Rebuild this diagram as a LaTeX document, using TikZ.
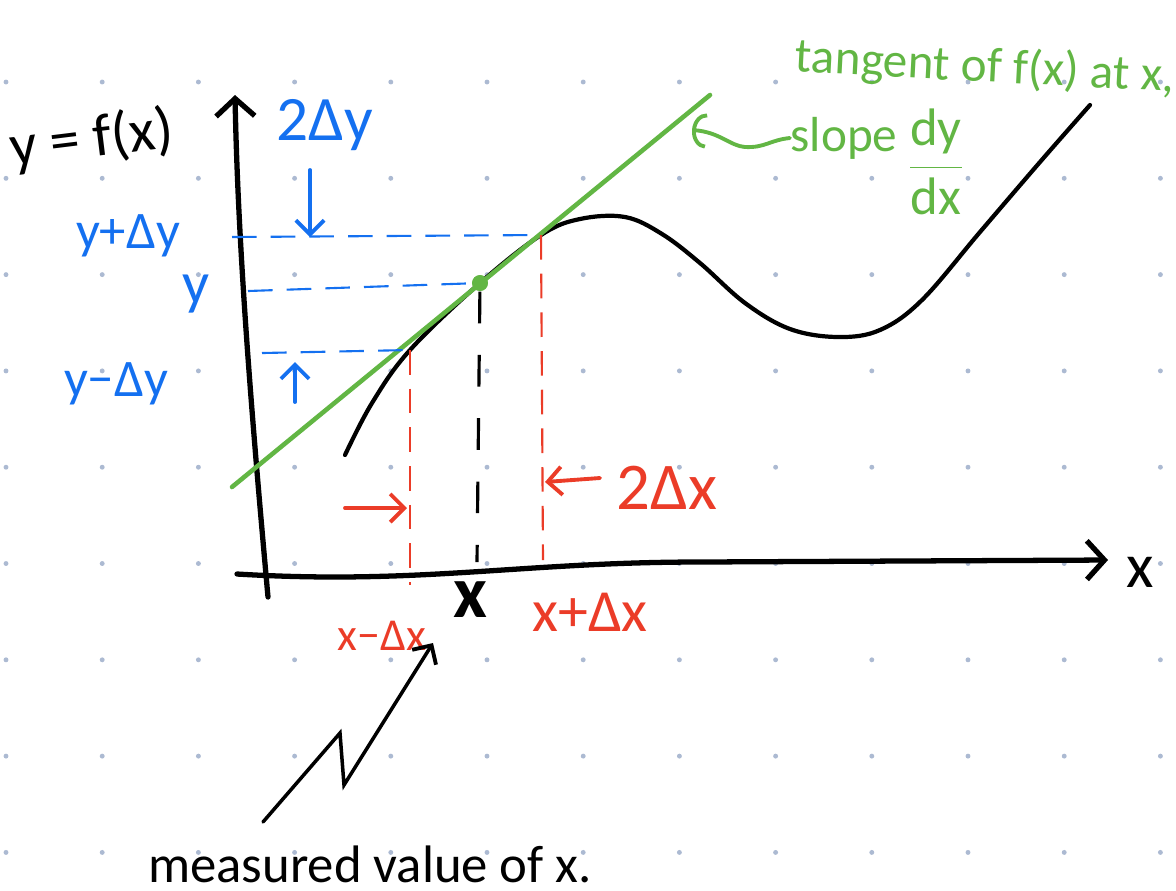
\documentclass[tikz,border=0pt]{standalone}
\usepackage{fontspec}
\setmainfont{Carlito}
\usetikzlibrary{arrows.meta, positioning}

\definecolor{inkblue}{RGB}{20,112,240}
\definecolor{inkred}{RGB}{235,60,40}
\definecolor{inkgreen}{RGB}{98,182,68}
\definecolor{dotgrey}{RGB}{172,186,210}

\begin{document}
\begin{tikzpicture}[
            x=0.01cm, y=-0.01cm,
            axis/.style={draw, line width=1.5pt, line cap=round, -{Straight Barb[length=5pt, width=11pt, line width=1.5pt]}},
            curve/.style={draw, line width=1.2pt, line cap=round, line join=round},
            tangent/.style={draw=inkgreen, line width=1.3pt, line cap=round},
            guide/.style={draw, line width=0.6pt, dash pattern=on 7pt off 4pt},
            pointer/.style={draw, line width=1.1pt, line cap=round, -{Straight Barb[length=4pt, width=8pt, line width=1.1pt]}},
            lbl/.style={inner sep=0pt, font=\fontsize{#1}{#1}\selectfont},
            gdot/.style={circle, fill=inkgreen, inner sep=0pt, minimum size=4.5pt}
        ]
            \useasboundingbox (0,0) rectangle (1176,890);
            % dotted paper
            \foreach \i in {0,...,12}
                \foreach \j in {0,...,8}
                    \fill[dotgrey] (6+96.2*\i, 82+96.3*\j) circle (0.7pt);

            % Axes
            \coordinate (origin) at (268,597);
            \coordinate (ytop) at (235,95);
            \coordinate (xleft) at (237,574);
            \coordinate (xright) at (1108,560);
            \path [axis] (origin) .. controls (252,420) and (238,250) .. (ytop);
            \path [axis] (xleft) .. controls (420,585) and (520,562) .. (700,562) -- (xright);
            \node [lbl=18] (xaxis) at (1140,572) {x};
            \node [lbl=17, rotate=7] (fx) at (92,140) {y = f(x)};

            % Curve and tangent
            \coordinate (lower) at (410,350);
            \coordinate (upper) at (541,235);
            \node [gdot] (pt) at (480,283) {};
            \path [curve] plot [smooth, tension=0.6] coordinates {(345,455) (372,403) (lower) (pt) (upper) (580,219) (625,217) (662,234) (700,263) (745,303) (790,329) (838,337) (880,330) (922,300) (980,232) (1040,162) (1090,105)};
            \coordinate (tanA) at (232,487);
            \coordinate (tanB) at (710,95);
            \path [tangent] (tanA) -- (tanB);
            \node [gdot] at (pt) {};

            % y values
            \node [lbl=18, text=inkblue] (dy2) at (325,125) {2Δy};
            \node [lbl=15, text=inkblue] (yplus) at (128,236) {y+Δy};
            \node [lbl=17, text=inkblue] (yc) at (196,294) {y};
            \node [lbl=15, text=inkblue] (yminus) at (116,384) {y−Δy};
            \coordinate (ypd) at (232,237);
            \coordinate (ycd) at (248,291);
            \coordinate (ymd) at (262,353);
            \path [guide, draw=inkblue] (ypd) -- (upper);
            \path [guide, draw=inkblue] (ycd) -- (pt);
            \path [guide, draw=inkblue] (ymd) -- (lower);
            \coordinate (dyA) at (310,170);
            \coordinate (dyB) at (310,237);
            \coordinate (dyC) at (295,402);
            \coordinate (dyD) at (295,362);
            \path [pointer, draw=inkblue] (dyA) -- (dyB);
            \path [pointer, draw=inkblue] (dyC) -- (dyD);

            % x values
            \coordinate (xmd) at (410,585);
            \coordinate (xcd) at (477,562);
            \coordinate (xpd) at (543,560);
            \path [guide, draw=inkred] (lower) -- (xmd);
            \path [guide, draw=inkred] (upper) -- (xpd);
            \path [guide, draw=black, line width=0.9pt, dash pattern=on 9pt off 9pt] (pt) -- (xcd);
            \node [lbl=13, text=inkred] (xminus) at (382,636) {x−Δx};
            \node [lbl=21] (xc) at (470,600) {\bfseries x};
            \node [lbl=17, text=inkred] (xplus) at (590,612) {x+Δx};
            \node [lbl=19, text=inkred] (dx2) at (667,488) {2Δx};
            \coordinate (dxA) at (345,508);
            \coordinate (dxB) at (407,508);
            \coordinate (dxC) at (600,478);
            \coordinate (dxD) at (545,482);
            \path [pointer, draw=inkred] (dxA) -- (dxB);
            \path [pointer, draw=inkred] (dxC) -- (dxD);

            % Notes
            \node [lbl=14, text=inkgreen, rotate=-3] (tannote) at (985,68) {tangent of f(x) at x,};
            \node [lbl=14, text=inkgreen] (slope) at (844,138) {slope};
            \node [lbl=15, text=inkgreen] (dydx) at (936,162) {$\displaystyle\frac{\mbox{dy}}{\mbox{dx}}$};
            \coordinate (slopetip) at (692,130);
            \path [pointer, draw=inkgreen, -{Arc Barb[length=4pt, width=10pt, line width=1.1pt]}] (slope.west) .. controls (770,140) and (765,148) .. (745,147) .. controls (730,146) and (720,132) .. (slopetip);
            \node [lbl=15] (meas) at (370,864) {measured value of x.};
            \coordinate (zA) at (263,822);
            \coordinate (zB) at (340,733);
            \coordinate (zC) at (344,785);
            \coordinate (zD) at (433,643);
            \path [pointer, line width=1pt] (zA) -- (zB) -- (zC) -- (zD);
        \end{tikzpicture}
\end{document}
